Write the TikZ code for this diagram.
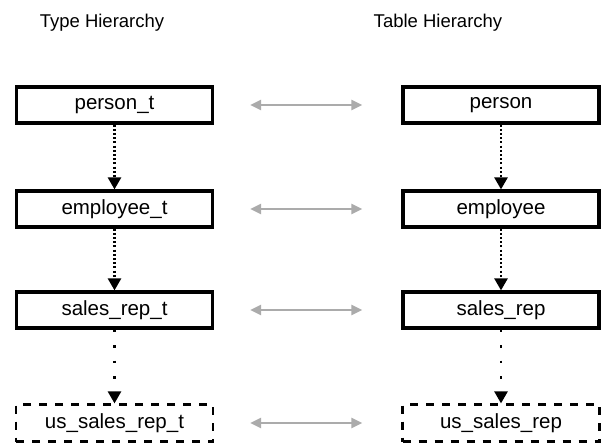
\documentclass[tikz,border=0pt]{standalone}
\usepackage{fontspec}
\setmainfont{Liberation Sans}
\usepackage{tikz}
\usetikzlibrary{positioning, calc, arrows.meta}

\tikzset{
  hbox/.style={draw, line width=3.2pt, minimum width=196pt, minimum height=36pt, inner sep=0pt, font=\fontsize{20.5}{20}\selectfont},
  hboxdash/.style={draw, line width=2.2pt, dash pattern=on 8pt off 8pt, minimum width=197pt, minimum height=37pt, inner sep=0pt, font=\fontsize{20.5}{20}\selectfont},
  title/.style={font=\fontsize{18.5}{18}\selectfont},
  inherit/.style={line width=2.5pt, dash pattern=on 2pt off 2.2pt, -{Triangle[width=13pt,length=12pt]}},
  inheritfar/.style={line width=2.5pt, dash pattern=on 2.5pt off 13pt, -{Triangle[width=13pt,length=12pt]}},
  maps/.style={draw=black!33, line width=2.5pt, {Triangle[width=10pt,length=11pt]}-{Triangle[width=10pt,length=11pt]}, shorten <=36pt, shorten >=39pt}
}

\begin{document}
\begin{tikzpicture}[x=1pt, y=-1pt]

\useasboundingbox (0,0) rectangle (601,443);

%//titles
\node [title] (ttype) at (102, 23) {Type Hierarchy};
\node [title] (ttable) at (438, 23) {Table Hierarchy};

\def\xleft{114.5}
\def\xright{501}

%//the solid rows
\foreach \n/\y/\tval/\rval in {1/105/person\_t/person, 2/209/employee\_t/employee, 3/310/sales\_rep\_t/sales\_rep}
{
\node [hbox] (t\n) at (\xleft, \y) {\tval};
\node [hbox] (r\n) at (\xright, \y) {\rval};
}

%//the last row is dashed
\node [hboxdash] (t4) at (\xleft, 423) {us\_sales\_rep\_t};
\node [hboxdash] (r4) at (\xright, 423) {us\_sales\_rep};

%//hierarchy arrows
\foreach \a/\b in {1/2, 2/3}
{
\draw [inherit] (t\a.south) -- (t\b.north);
\draw [inherit] (r\a.south) -- (r\b.north);
}
\draw [inheritfar] (t3.south) -- (t4.north);
\draw [inheritfar] (r3.south) -- (r4.north);

%//type <-> table
\foreach \n in {1,2,3,4}
\draw [maps] (t\n.east) -- (r\n.west);

\end{tikzpicture}
\end{document}
